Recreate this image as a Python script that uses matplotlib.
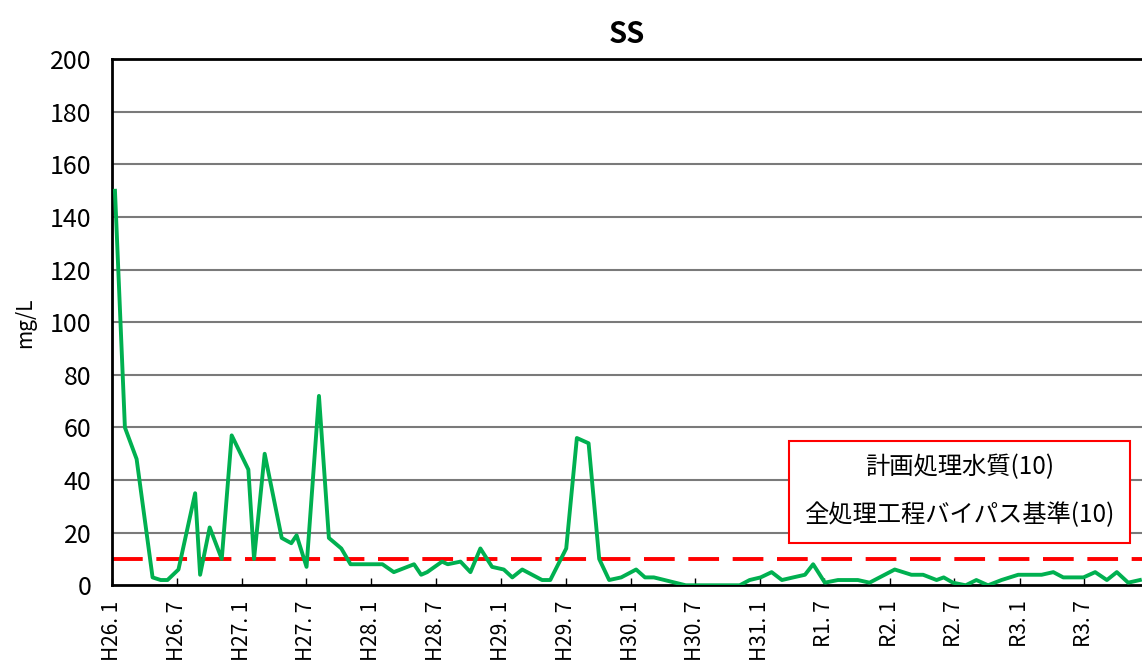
import matplotlib
matplotlib.use("Agg")
import matplotlib.pyplot as plt
from matplotlib.patches import Rectangle
import pandas as pd

# ---- data ----
dates = [
    "2014-01-08", "2014-02-05", "2014-03-10", "2014-04-24", "2014-05-17", "2014-06-05",
    "2014-07-06", "2014-08-22", "2014-09-05", "2014-10-02", "2014-11-05", "2014-12-03",
    "2015-01-19", "2015-02-04", "2015-03-06", "2015-04-23", "2015-05-20", "2015-06-04",
    "2015-07-02", "2015-08-06", "2015-09-03", "2015-10-08", "2015-11-03", "2015-12-04",
    "2016-01-01", "2016-02-01", "2016-03-04", "2016-04-30", "2016-05-20", "2016-06-06",
    "2016-07-18", "2016-08-03", "2016-09-08", "2016-10-06", "2016-11-03", "2016-12-06",
    "2017-01-08", "2017-02-01", "2017-03-01", "2017-04-26", "2017-05-19", "2017-07-03",
    "2017-08-02", "2017-09-04", "2017-10-04", "2017-11-01", "2017-12-05", "2018-01-16",
    "2018-02-10", "2018-03-07", "2018-06-05", "2018-07-06", "2018-08-06", "2018-09-06",
    "2018-10-07", "2018-11-04", "2018-12-02", "2019-01-02", "2019-02-02", "2019-03-03",
    "2019-04-04", "2019-05-07", "2019-05-30", "2019-07-02", "2019-08-08", "2019-10-03",
    "2019-11-05", "2020-01-15", "2020-03-02", "2020-04-04", "2020-05-12", "2020-06-01",
    "2020-06-27", "2020-08-02", "2020-09-01", "2020-10-04", "2020-11-11", "2020-12-28",
    "2021-01-30", "2021-03-04", "2021-04-06", "2021-05-04", "2021-06-30", "2021-08-02",
    "2021-09-04", "2021-10-02", "2021-11-03", "2021-12-06",
]
ss_values = [
    150, 60, 48, 3, 2, 2,
    6, 35, 4, 22, 10, 57,
    44, 10, 50, 18, 16, 19,
    7, 72, 18, 14, 8, 8,
    8, 8, 5, 8, 4, 5,
    9, 8, 9, 5, 14, 7,
    6, 3, 6, 2, 2, 14,
    56, 54, 10, 2, 3, 6,
    3, 3, 0, 0, 0, 0,
    0, 0, 2, 3, 5, 2,
    3, 4, 8, 1, 2, 2,
    1, 6, 4, 4, 2, 3,
    1, 0, 2, 0, 2, 4,
    4, 4, 5, 3, 3, 5,
    2, 5, 1, 2,
]
standard_value = 10
tick_dates = [
    "2014-01-01", "2014-07-01", "2015-01-01", "2015-07-01", "2016-01-01", "2016-07-01",
    "2017-01-01", "2017-07-01", "2018-01-01", "2018-07-01", "2019-01-01", "2019-07-01",
    "2020-01-01", "2020-07-01", "2021-01-01", "2021-07-01",
]
tick_labels = [
    "H26. 1", "H26. 7", "H27. 1", "H27. 7", "H28. 1", "H28. 7",
    "H29. 1", "H29. 7", "H30. 1", "H30. 7", "H31. 1", "R1. 7",
    "R2. 1", "R2. 7", "R3. 1", "R3. 7",
]
y_ticks = [0, 20, 40, 60, 80, 100, 120, 140, 160, 180, 200]
title = "SS"
y_label = "mg/L"
box_lines = ["計画処理水質(10)", "全処理工程バイパス基準(10)"]

# ---- plot ----
jp_fam = ["Noto Sans CJK JP", "DejaVu Sans"]
plt.rcParams["font.family"] = jp_fam

fig = plt.figure(figsize=(11.42, 6.60), dpi=100)
ax = fig.add_axes([0.0985, 0.1132, 0.9015, 0.7970])

x = pd.to_datetime(dates)
xt = pd.to_datetime(tick_dates)

for yv in y_ticks[1:-1]:
    ax.axhline(yv, color="#7a7a7a", lw=1.5, zorder=1)

ax.axhline(standard_value, color="#ff0000", lw=2.8, zorder=2,
           dashes=(7.9, 3.5), dash_capstyle="butt")
ax.plot(x, ss_values, color="#00b050", lw=2.8, zorder=3)

ax.set_xlim(pd.Timestamp("2014-01-01"), pd.Timestamp("2021-12-12"))
ax.set_ylim(0, 200)
ax.set_yticks(y_ticks)
ax.set_yticklabels([str(v) for v in y_ticks], fontsize=18)
ax.set_xticks(xt)
ax.set_xticklabels(tick_labels, rotation=90, fontsize=15)
ax.tick_params(axis="y", length=0, pad=15)
ax.tick_params(axis="x", direction="in", length=5, width=1, pad=11)

for s in ["left", "bottom", "top"]:
    ax.spines[s].set_linewidth(2)
    ax.spines[s].set_color("black")
ax.spines["right"].set_visible(False)

ax.set_ylabel(y_label, fontsize=15, labelpad=10)
ax.set_title(title, fontsize=21, fontweight="bold", pad=12)

# standard box
box = Rectangle((0.6909, 0.1773), 0.2986, 0.1545, transform=fig.transFigure,
                facecolor="white", edgecolor="#ff0000", lw=1.5, zorder=5)
fig.patches.append(box)
fig.text(0.840, 0.2924, box_lines[0], ha="center", va="center", fontsize=17.5, zorder=6)
fig.text(0.840, 0.2197, box_lines[1], ha="center", va="center", fontsize=17.5, zorder=6)

fig.savefig("out.png", dpi=100)
